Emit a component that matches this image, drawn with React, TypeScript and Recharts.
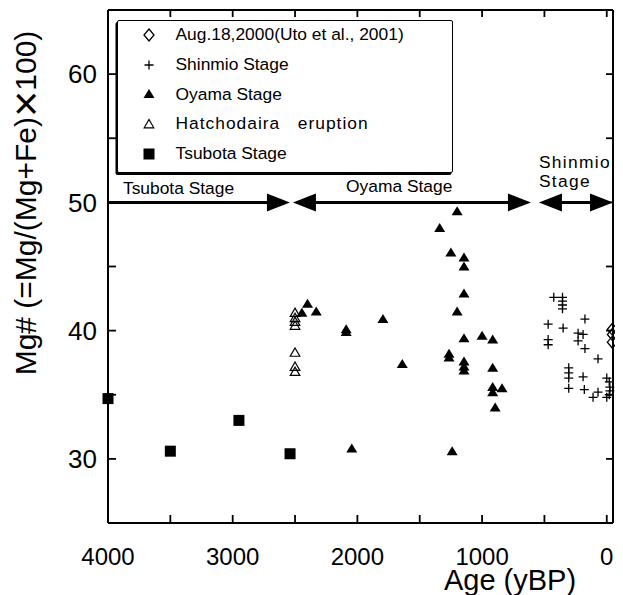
import React from 'react';
import { ScatterChart, Scatter, XAxis, YAxis, ReferenceLine, Legend } from 'recharts';

const FONT = '"Liberation Sans", Arial, Helvetica, sans-serif';

// ---- axes ----
const ageDomain = [-50, 4000];
const mgDomain = [25, 65];
const ageTicks = [4000, 3500, 3000, 2500, 2000, 1500, 1000, 500, 0];
const ageLabelStep = 1000;
const mgTicks = [30, 35, 40, 45, 50, 55, 60];
const mgLabelStep = 10;

// ---- data (age yBP, Mg#) ----
const uto2000 = [
  { age: -45, mg: 40.1 },
  { age: -45, mg: 39.7 },
  { age: -45, mg: 39.1 },
];

const shinmio = [
  { age: 425, mg: 42.6 }, { age: 355, mg: 42.6 }, { age: 355, mg: 42.3 }, { age: 355, mg: 42.0 },
  { age: 355, mg: 41.7 }, { age: 470, mg: 40.5 }, { age: 350, mg: 40.2 }, { age: 470, mg: 39.3 },
  { age: 470, mg: 38.9 }, { age: 175, mg: 40.9 }, { age: 230, mg: 39.8 }, { age: 190, mg: 39.7 },
  { age: 230, mg: 39.2 }, { age: 175, mg: 38.6 }, { age: 70, mg: 37.8 }, { age: 305, mg: 37.1 },
  { age: 305, mg: 36.7 }, { age: 305, mg: 36.3 }, { age: 305, mg: 35.5 }, { age: 190, mg: 36.4 },
  { age: 180, mg: 35.4 }, { age: 110, mg: 34.8 }, { age: 70, mg: 35.2 }, { age: 0, mg: 36.3 },
  { age: -20, mg: 36.0 }, { age: -25, mg: 35.6 }, { age: -25, mg: 35.3 }, { age: -20, mg: 35.0 },
  { age: 0, mg: 34.8 },
];

const oyama = [
  { age: 2400, mg: 42.1 }, { age: 2445, mg: 41.4 }, { age: 2330, mg: 41.5 }, { age: 2090, mg: 40.1 },
  { age: 2090, mg: 39.9 }, { age: 1795, mg: 40.9 }, { age: 2045, mg: 30.8 }, { age: 1640, mg: 37.4 },
  { age: 1340, mg: 48.0 }, { age: 1200, mg: 49.3 }, { age: 1250, mg: 46.1 }, { age: 1145, mg: 45.7 },
  { age: 1145, mg: 45.0 }, { age: 1145, mg: 42.9 }, { age: 1200, mg: 41.5 }, { age: 1145, mg: 39.4 },
  { age: 1000, mg: 39.6 }, { age: 915, mg: 39.3 }, { age: 1265, mg: 38.2 }, { age: 1265, mg: 37.9 },
  { age: 1145, mg: 37.6 }, { age: 1145, mg: 37.2 }, { age: 1145, mg: 36.9 }, { age: 915, mg: 37.1 },
  { age: 915, mg: 35.6 }, { age: 915, mg: 35.2 }, { age: 840, mg: 35.5 }, { age: 895, mg: 34.0 },
  { age: 1240, mg: 30.6 },
];

const hatchodaira = [
  { age: 2500, mg: 41.4 }, { age: 2500, mg: 41.0 }, { age: 2500, mg: 40.7 }, { age: 2500, mg: 40.4 },
  { age: 2500, mg: 38.3 }, { age: 2500, mg: 37.2 }, { age: 2500, mg: 36.8 },
];

const tsubota = [
  { age: 4000, mg: 34.7 }, { age: 3500, mg: 30.6 }, { age: 2950, mg: 33.0 }, { age: 2540, mg: 30.4 },
];

// ---- stage annotations ----
const stageLevel = 50;
const stages = [
  { name: 'Tsubota Stage', from: 4000, to: 2541, arrowFrom: false },
  { name: 'Oyama Stage', from: 2517, to: 608, arrowFrom: true },
  { name: 'Shinmio Stage', from: 544, to: -50, arrowFrom: true },
];
const stageLabels = [
  { lines: ['Tsubota Stage'], age: 3880, mg: 50.66, spacing: 0 },
  { lines: ['Oyama Stage'], age: 2091, mg: 50.8, spacing: 0 },
  { lines: ['Shinmio', 'Stage'], age: 544, mg: 52.65, spacing: 1.3 },
];

const legendItems = [
  { key: 'uto', label: 'Aug.18,2000(Uto et al., 2001)', spacing: 0 },
  { key: 'shinmio', label: 'Shinmio Stage', spacing: 0 },
  { key: 'oyama', label: 'Oyama Stage', spacing: 0 },
  { key: 'hatcho', label: 'Hatchodaira   eruption', spacing: 1 },
  { key: 'tsubota', label: 'Tsubota Stage', spacing: 0 },
];

// ---- markers ----
const Diamond = ({ cx, cy }: any) => (
  <path d={`M${cx},${cy - 6}L${cx + 5},${cy}L${cx},${cy + 6}L${cx - 5},${cy}Z`} fill="none" stroke="#000" strokeWidth={1.3} />
);
const Cross = ({ cx, cy }: any) => (
  <path d={`M${cx - 4.5},${cy}H${cx + 4.5}M${cx},${cy - 4.5}V${cy + 4.5}`} stroke="#000" strokeWidth={1.3} fill="none" />
);
const FilledTri = ({ cx, cy }: any) => (
  <path d={`M${cx},${cy - 5}L${cx + 5.5},${cy + 4}L${cx - 5.5},${cy + 4}Z`} fill="#000" />
);
const OpenTri = ({ cx, cy }: any) => (
  <path d={`M${cx},${cy - 4.5}L${cx + 4.8},${cy + 3.8}L${cx - 4.8},${cy + 3.8}Z`} fill="none" stroke="#000" strokeWidth={1.2} />
);
const Square = ({ cx, cy }: any) => <rect x={cx - 5.5} y={cy - 5.5} width={11} height={11} fill="#000" />;
const Nothing = () => <g />;

const markerFor: Record<string, any> = {
  uto: Diamond, shinmio: Cross, oyama: FilledTri, hatcho: OpenTri, tsubota: Square,
};

const arrowHeads = stages.flatMap((s) => {
  const r = [{ age: s.to, mg: stageLevel, dir: 1 }];
  if (s.arrowFrom) r.push({ age: s.from, mg: stageLevel, dir: -1 });
  return r;
});

const ArrowHead = (props: any) => {
  const { cx, cy, payload } = props;
  const d = payload.dir;
  const L = 23;
  const H = 9;
  return <path d={`M${cx},${cy}L${cx - d * L},${cy - H}L${cx - d * L},${cy + H}Z`} fill="#000" />;
};

const StageText = (props: any) => {
  const { cx, cy, payload } = props;
  return (
    <text x={cx} y={cy} fontFamily={FONT} fontSize={17.4} letterSpacing={payload.spacing} fill="#000">
      {payload.lines.map((l: string, i: number) => (
        <tspan key={i} x={cx} dy={i === 0 ? 0 : 18.5}>{l}</tspan>
      ))}
    </text>
  );
};

// ---- ticks ----
const BottomTick = (props: any) => {
  const { x, y, payload } = props;
  const v = payload.value;
  return (
    <g>
      <line x1={x} y1={y} x2={x} y2={y - 8} stroke="#000" strokeWidth={1.8} />
      {v % ageLabelStep === 0 && (
        <text x={x} y={y + 42} textAnchor="middle" fontFamily={FONT} fontSize={24} fill="#000">{v}</text>
      )}
    </g>
  );
};
const TopTick = (props: any) => {
  const { x, y } = props;
  return <line x1={x} y1={y} x2={x} y2={y + 7} stroke="#000" strokeWidth={1.8} />;
};
const LeftTick = (props: any) => {
  const { x, y, payload } = props;
  const v = payload.value;
  return (
    <g>
      <line x1={x} y1={y} x2={x + 8} y2={y} stroke="#000" strokeWidth={1.8} />
      {v % mgLabelStep === 0 && (
        <text x={x - 11} y={y} dy="0.36em" textAnchor="end" fontFamily={FONT} fontSize={26} fill="#000">{v}</text>
      )}
    </g>
  );
};
const RightTick = (props: any) => {
  const { x, y } = props;
  return <line x1={x} y1={y} x2={x - 7} y2={y} stroke="#000" strokeWidth={1.8} />;
};

const YTitle = (props: any) => {
  const vb = props.viewBox;
  const cx = vb.x + 28;
  const cy = vb.y + 193;
  return (
    <text x={cx} y={cy} textAnchor="middle" transform={`rotate(-90, ${cx}, ${cy})`} fontFamily={FONT} fontSize={30} fill="#000">
      Mg# (=Mg/(Mg+Fe)<tspan fontSize={45} dy={4.5}>×</tspan><tspan dy={-4.5}>100)</tspan>
    </text>
  );
};
const XTitle = (props: any) => {
  const vb = props.viewBox;
  return (
    <text x={vb.x + 402} y={vb.y + 67} textAnchor="middle" fontFamily={FONT} fontSize={29} fill="#000">Age (yBP)</text>
  );
};

const LegendBox = () => (
  <div
    style={{
      width: 336, height: 153, boxSizing: 'border-box', border: '1.5px solid #000',
      boxShadow: '-1.5px 2px 0 #000', background: '#fff', fontFamily: FONT, fontSize: 17.4,
      color: '#000', borderRadius: 2, position: 'relative',
    }}
  >
    {legendItems.map((it, i) => {
      const M = markerFor[it.key];
      return (
        <div key={it.key} style={{ position: 'absolute', left: 0, top: i * 29.8 - 1, height: 29.8, width: '100%' }}>
          <svg width={20} height={20} style={{ position: 'absolute', left: 20.5, top: 4.9 }}>
            <M cx={10} cy={10} />
          </svg>
          <span style={{ position: 'absolute', left: 57.5, top: 4, whiteSpace: 'pre', letterSpacing: it.spacing, lineHeight: '20px' }}>
            {it.label}
          </span>
        </div>
      );
    })}
  </div>
);

const axisLine = { stroke: '#000', strokeWidth: 2 };

export default function App() {
  return (
    <ScatterChart width={615} height={587} margin={{ top: 1, right: 9, bottom: 0, left: 0 }} style={{ background: '#fff' }}>
      <XAxis xAxisId="b" dataKey="age" type="number" domain={ageDomain} reversed
        ticks={ageTicks} interval={0} tickSize={0} tickMargin={0} height={72}
        tick={<BottomTick />} tickLine={false} axisLine={axisLine} label={<XTitle />} />
      <XAxis xAxisId="t" dataKey="age" orientation="top" type="number" domain={ageDomain} reversed
        ticks={ageTicks} interval={0} tickSize={0} tickMargin={0} height={1}
        tick={<TopTick />} tickLine={false} axisLine={axisLine} />
      <YAxis yAxisId="l" dataKey="mg" type="number" domain={mgDomain}
        ticks={mgTicks} interval={0} tickSize={0} tickMargin={0} width={100}
        tick={<LeftTick />} tickLine={false} axisLine={axisLine} label={<YTitle />} />
      <YAxis yAxisId="r" dataKey="mg" orientation="right" type="number" domain={mgDomain}
        ticks={mgTicks} interval={0} tickSize={0} tickMargin={0} width={1}
        tick={<RightTick />} tickLine={false} axisLine={axisLine} />

      {stages.map((s) => (
        <ReferenceLine key={s.name} xAxisId="b" yAxisId="l"
          segment={[{ x: s.from - (s.arrowFrom ? 100 : 0), y: stageLevel }, { x: s.to + 100, y: stageLevel }]}
          stroke="#000" strokeWidth={3} />
      ))}

      <Scatter name="frame" data={uto2000} xAxisId="t" yAxisId="r" dataKey="mg" shape={Nothing} isAnimationActive={false} legendType="none" />
      <Scatter name="arrows" data={arrowHeads} xAxisId="b" yAxisId="l" dataKey="mg" shape={ArrowHead} isAnimationActive={false} legendType="none" />
      <Scatter name="stageLabels" data={stageLabels} xAxisId="b" yAxisId="l" dataKey="mg" shape={StageText} isAnimationActive={false} legendType="none" />

      <Scatter name="Tsubota Stage" data={tsubota} xAxisId="b" yAxisId="l" dataKey="mg" shape={Square} isAnimationActive={false} />
      <Scatter name="Hatchodaira eruption" data={hatchodaira} xAxisId="b" yAxisId="l" dataKey="mg" shape={OpenTri} isAnimationActive={false} />
      <Scatter name="Oyama Stage" data={oyama} xAxisId="b" yAxisId="l" dataKey="mg" shape={FilledTri} isAnimationActive={false} />
      <Scatter name="Shinmio Stage" data={shinmio} xAxisId="b" yAxisId="l" dataKey="mg" shape={Cross} isAnimationActive={false} />
      <Scatter name="Aug.18,2000(Uto et al., 2001)" data={uto2000} xAxisId="b" yAxisId="l" dataKey="mg" shape={Diamond} isAnimationActive={false} />

      <Legend layout="horizontal" verticalAlign="middle" align="center" content={<LegendBox />}
        wrapperStyle={{ position: 'absolute', left: 109, top: 12, width: 336, height: 153 }} />
    </ScatterChart>
  );
}
